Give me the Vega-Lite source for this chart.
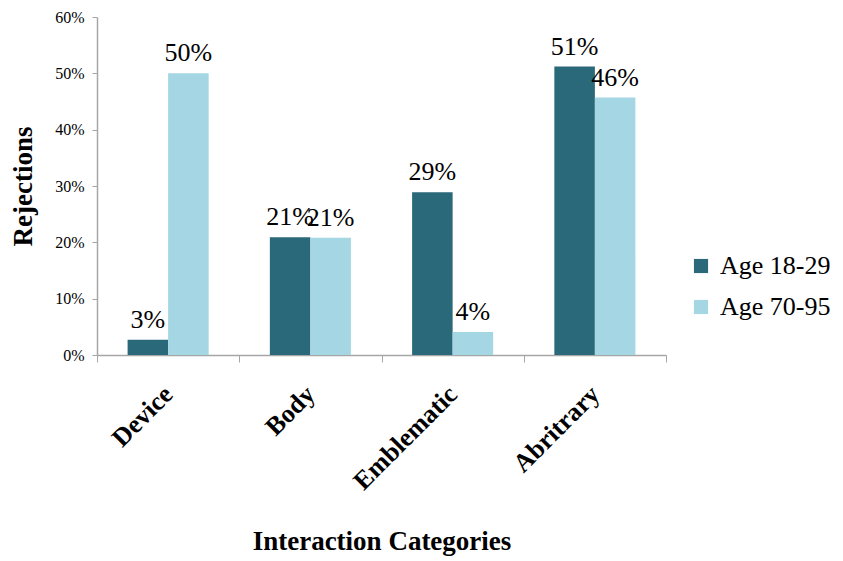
{
  "$schema": "https://vega.github.io/schema/vega-lite/v6.json",
  "width": 569,
  "height": 338,
  "autosize": "none",
  "padding": {"left": 97, "top": 17, "right": 177, "bottom": 206},
  "background": "white",
  "config": {"font": "Liberation Serif", "view": {"stroke": null}, "text": {"font": "Liberation Serif"}, "legend": {"labelFont": "Liberation Serif"}},
  "data": {
    "values": [
      {"category": "Device", "group": "Age 18-29", "value": 0.027},
      {"category": "Device", "group": "Age 70-95", "value": 0.50},
      {"category": "Body", "group": "Age 18-29", "value": 0.209},
      {"category": "Body", "group": "Age 70-95", "value": 0.208},
      {"category": "Emblematic", "group": "Age 18-29", "value": 0.289},
      {"category": "Emblematic", "group": "Age 70-95", "value": 0.041},
      {"category": "Abritrary", "group": "Age 18-29", "value": 0.512},
      {"category": "Abritrary", "group": "Age 70-95", "value": 0.457}
    ]
  },
  "encoding": {
    "x": {
      "field": "category",
      "type": "nominal",
      "sort": ["Device", "Body", "Emblematic", "Abritrary"],
      "scale": {"paddingInner": 0, "paddingOuter": 0},
      "axis": {
        "title": "Interaction Categories",
        "titleFont": "Liberation Serif",
        "titleFontSize": 27,
        "titleFontWeight": "bold",
        "titleColor": "black",
        "titlePadding": 34,
        "labelFont": "Liberation Serif",
        "labelAngle": -45,
        "labelAlign": "right",
        "labelBaseline": "middle",
        "labelFontSize": 26,
        "labelFontWeight": "bold",
        "labelColor": "black",
        "labelPadding": 28,
        "tickBand": "extent",
        "tickSize": 7,
        "tickColor": "#a6a6a6",
        "domainColor": "#a6a6a6",
        "domainWidth": 1.5,
        "grid": false
      }
    },
    "xOffset": {
      "field": "group",
      "type": "nominal",
      "scale": {"paddingInner": 0, "paddingOuter": 0.755}
    },
    "y": {
      "field": "value",
      "type": "quantitative",
      "scale": {"domain": [0, 0.6], "nice": false},
      "axis": {
        "values": [0, 0.1, 0.2, 0.3, 0.4, 0.5, 0.6],
        "format": ".0%",
        "title": "Rejections",
        "titleFont": "Liberation Serif",
        "titleFontSize": 27,
        "titleFontWeight": "bold",
        "titleColor": "black",
        "titlePadding": 17,
        "labelFont": "Liberation Serif",
        "labelFontSize": 16,
        "labelColor": "black",
        "labelPadding": 8,
        "tickSize": 5,
        "tickColor": "#a6a6a6",
        "domainColor": "#a6a6a6",
        "domainWidth": 1.5,
        "grid": false
      }
    }
  },
  "layer": [
    {
      "mark": {"type": "bar"},
      "encoding": {
        "color": {
          "field": "group",
          "type": "nominal",
          "scale": {"domain": ["Age 18-29", "Age 70-95"], "range": ["#2a6979", "#a5d6e3"]},
          "legend": {
            "title": null,
            "orient": "none",
            "legendX": 591,
            "legendY": 236,
            "padding": 0,
            "symbolType": "square",
            "symbolSize": 200,
            "symbolStrokeWidth": 0,
            "labelFont": "Liberation Serif",
            "labelFontSize": 26,
            "labelColor": "black",
            "labelOffset": 6,
            "labelLimit": 300,
            "rowPadding": 15
          }
        }
      }
    },
    {
      "mark": {"type": "text", "baseline": "alphabetic", "dy": -12, "fontSize": 26, "color": "black", "font": "Liberation Serif"},
      "encoding": {"text": {"field": "value", "type": "quantitative", "format": ".0%"}}
    }
  ]
}
